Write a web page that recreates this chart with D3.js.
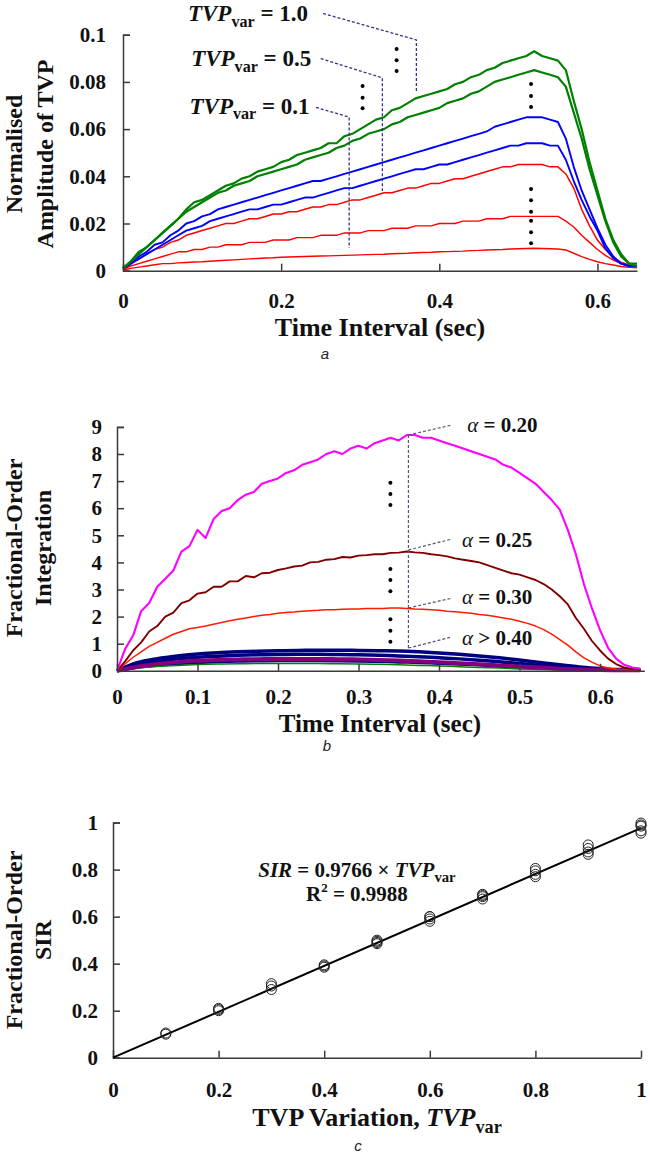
<!DOCTYPE html>
<html><head><meta charset="utf-8">
<script src="https://cdn.jsdelivr.net/npm/d3@7"></script>
<style>
body{margin:0;background:#fff;}
svg text{font-family:"Liberation Serif","Times New Roman",serif;white-space:pre;}
</style></head><body>
<svg id="fig" width="650" height="1156"></svg>
<script>
// ---------------- DATA ----------------
const timeA = [0,0.01,0.02,0.03,0.04,0.05,0.06,0.07,0.08,0.09,0.10,0.11,0.12,0.13,0.14,0.15,0.16,0.17,0.18,0.19,0.20,0.21,0.22,0.23,0.24,0.25,0.26,0.27,0.28,0.29,0.30,0.31,0.32,0.33,0.34,0.35,0.36,0.37,0.38,0.39,0.40,0.41,0.42,0.43,0.44,0.45,0.46,0.47,0.48,0.49,0.50,0.51,0.52,0.53,0.54,0.55,0.56,0.57,0.58,0.59,0.60,0.61,0.62,0.63,0.64,0.65];

// panel a: normalised TVP amplitude
const green1 = [0.001,0.004,0.008,0.010,0.013,0.016,0.019,0.022,0.026,0.029,0.030,0.032,0.034,0.036,0.037,0.039,0.040,0.042,0.043,0.044,0.046,0.047,0.049,0.050,0.051,0.052,0.054,0.054,0.057,0.058,0.060,0.062,0.064,0.065,0.068,0.069,0.071,0.073,0.074,0.075,0.076,0.077,0.079,0.080,0.082,0.083,0.085,0.086,0.088,0.089,0.090,0.091,0.093,0.091,0.090,0.089,0.085,0.072,0.060,0.046,0.034,0.022,0.013,0.007,0.003,0.003];
const green2 = [0.001,0.004,0.007,0.010,0.013,0.016,0.019,0.022,0.025,0.027,0.029,0.031,0.033,0.034,0.036,0.037,0.038,0.040,0.041,0.042,0.043,0.044,0.045,0.047,0.048,0.049,0.050,0.052,0.053,0.055,0.056,0.058,0.059,0.060,0.062,0.063,0.065,0.066,0.067,0.068,0.069,0.071,0.072,0.073,0.075,0.076,0.078,0.080,0.081,0.082,0.083,0.084,0.085,0.084,0.083,0.082,0.078,0.067,0.056,0.043,0.032,0.021,0.012,0.006,0.003,0.002];
const blue1 = [0.001,0.003,0.006,0.008,0.011,0.012,0.015,0.017,0.020,0.021,0.023,0.024,0.026,0.027,0.028,0.029,0.030,0.031,0.032,0.033,0.034,0.035,0.036,0.037,0.038,0.038,0.039,0.040,0.041,0.042,0.043,0.044,0.045,0.046,0.047,0.048,0.049,0.050,0.051,0.052,0.053,0.054,0.055,0.056,0.057,0.058,0.059,0.061,0.062,0.063,0.064,0.065,0.065,0.065,0.064,0.063,0.056,0.044,0.034,0.026,0.018,0.011,0.006,0.003,0.002,0.002];
const blue2 = [0.001,0.003,0.005,0.007,0.009,0.011,0.013,0.015,0.017,0.018,0.019,0.021,0.022,0.023,0.024,0.025,0.026,0.026,0.027,0.028,0.028,0.029,0.030,0.031,0.031,0.032,0.033,0.034,0.035,0.035,0.036,0.037,0.038,0.039,0.040,0.041,0.042,0.043,0.043,0.044,0.045,0.045,0.046,0.047,0.048,0.049,0.050,0.051,0.052,0.053,0.053,0.054,0.054,0.054,0.053,0.053,0.047,0.038,0.030,0.023,0.017,0.0095,0.0053,0.003,0.002,0.002];
const red1 = [0.001,0.003,0.005,0.007,0.009,0.010,0.012,0.013,0.015,0.016,0.017,0.018,0.019,0.020,0.020,0.021,0.022,0.022,0.023,0.024,0.024,0.025,0.025,0.026,0.027,0.027,0.028,0.028,0.029,0.030,0.030,0.031,0.032,0.033,0.033,0.034,0.035,0.035,0.036,0.037,0.037,0.038,0.039,0.039,0.040,0.041,0.042,0.043,0.044,0.044,0.045,0.045,0.045,0.045,0.044,0.044,0.041,0.035,0.026,0.019,0.013,0.009,0.0055,0.0035,0.0025,0.002];
const red2 = [0.0005,0.002,0.003,0.004,0.005,0.006,0.007,0.008,0.008,0.009,0.009,0.010,0.010,0.011,0.011,0.011,0.012,0.012,0.012,0.013,0.013,0.013,0.014,0.014,0.014,0.015,0.015,0.015,0.016,0.016,0.016,0.017,0.017,0.017,0.018,0.018,0.018,0.019,0.019,0.019,0.020,0.020,0.020,0.021,0.021,0.021,0.022,0.022,0.022,0.023,0.023,0.023,0.023,0.023,0.023,0.023,0.021,0.0185,0.015,0.012,0.009,0.0065,0.0045,0.003,0.002,0.0015];
const red3 = [0.0003,0.001,0.0015,0.002,0.0025,0.003,0.003,0.0033,0.0035,0.0037,0.0038,0.004,0.0042,0.0044,0.0046,0.0048,0.005,0.0052,0.0054,0.0055,0.0057,0.0058,0.0059,0.006,0.0061,0.0062,0.0063,0.0064,0.0065,0.0066,0.0067,0.0068,0.0069,0.007,0.0072,0.0073,0.0074,0.0076,0.0077,0.0078,0.008,0.0081,0.0082,0.0083,0.0085,0.0086,0.0088,0.0089,0.009,0.0092,0.0093,0.0094,0.0095,0.0094,0.0093,0.0092,0.0088,0.0074,0.006,0.0048,0.0038,0.003,0.0024,0.0018,0.0014,0.0012];
const seriesA = [
  {name:"red3", values:red3, color:"#ff0000", w:1.4},
  {name:"red2", values:red2, color:"#ff0000", w:1.4},
  {name:"red1", values:red1, color:"#ff0000", w:1.5},
  {name:"blue2", values:blue2, color:"#0000ff", w:1.9},
  {name:"blue1", values:blue1, color:"#0000ff", w:1.9},
  {name:"green2", values:green2, color:"#008000", w:2.2},
  {name:"green1", values:green1, color:"#008000", w:2.2}
];
const yTicksA = [0,0.02,0.04,0.06,0.08,0.1];
const xTicksA = [0,0.2,0.4,0.6];
const labelsA = ["1.0","0.5","0.1"];
const labelPosA = [[0.234,0.1058],[0.238,0.0868],[0.236,0.0666]];
const connectorsA = [
  [[0.253,0.1090],[0.371,0.0978],[0.371,0.0757]],
  [[0.250,0.0899],[0.328,0.0817],[0.328,0.0338]],
  [[0.244,0.0692],[0.286,0.0651],[0.286,0.0096]]
];
const dotsA = [[0.346,0.0939],[0.346,0.0892],[0.346,0.0846],[0.303,0.0783],[0.303,0.0733],[0.303,0.0688],[0.516,0.0791],[0.516,0.074],[0.516,0.0694],[0.516,0.0346],[0.516,0.0298],[0.516,0.025],[0.516,0.0212],[0.516,0.0163],[0.516,0.0116]];

// panel b: fractional-order integration
const alpha020 = [0,0.8,1.3,2.2,2.5,3.1,3.4,3.7,4.4,4.6,5.2,4.9,5.6,5.9,6.0,6.3,6.5,6.6,6.9,7.0,7.1,7.3,7.4,7.6,7.7,7.8,8.0,8.1,8.0,8.2,8.3,8.2,8.4,8.5,8.6,8.5,8.7,8.7,8.6,8.6,8.5,8.4,8.3,8.2,8.1,8.0,7.9,7.8,7.6,7.5,7.3,7.1,6.9,6.6,6.3,5.95,5.2,4.3,3.2,2.3,1.5,0.85,0.45,0.22,0.12,0.08];
const alpha025 = [0,0.35,0.75,1.05,1.45,1.65,2.0,2.15,2.5,2.6,2.85,2.9,3.1,3.1,3.3,3.3,3.5,3.45,3.6,3.62,3.72,3.78,3.85,3.88,4.0,4.02,4.1,4.12,4.2,4.18,4.25,4.27,4.3,4.3,4.35,4.36,4.4,4.37,4.35,4.3,4.27,4.22,4.15,4.1,4.05,4.0,3.9,3.8,3.7,3.6,3.55,3.45,3.35,3.2,3.0,2.75,2.45,1.95,1.55,1.1,0.75,0.45,0.25,0.12,0.06,0.04];
const alpha030 = [0,0.25,0.5,0.7,0.9,1.05,1.2,1.35,1.45,1.55,1.6,1.65,1.72,1.78,1.85,1.9,1.95,2.0,2.05,2.08,2.12,2.15,2.17,2.2,2.22,2.23,2.25,2.25,2.27,2.28,2.28,2.3,2.3,2.3,2.32,2.32,2.3,2.28,2.27,2.25,2.23,2.2,2.18,2.15,2.12,2.08,2.05,2.0,1.95,1.9,1.83,1.75,1.65,1.52,1.35,1.15,0.95,0.7,0.48,0.32,0.18,0.1,0.06,0.04,0.03,0.03];
const timeLow = [0,0.025,0.05,0.075,0.1,0.125,0.15,0.175,0.2,0.225,0.25,0.275,0.3,0.325,0.35,0.375,0.4,0.425,0.45,0.475,0.5,0.525,0.55,0.575,0.6,0.625,0.65];
const navy1 = [0,0.3,0.45,0.55,0.62,0.67,0.7,0.72,0.74,0.75,0.76,0.76,0.75,0.74,0.73,0.7,0.66,0.61,0.55,0.48,0.4,0.31,0.22,0.14,0.08,0.05,0.04];
const navy2 = [0,0.22,0.35,0.44,0.5,0.54,0.57,0.59,0.6,0.61,0.61,0.6,0.59,0.57,0.55,0.52,0.48,0.44,0.39,0.33,0.27,0.2,0.14,0.09,0.05,0.03,0.03];
const navy3 = [0,0.12,0.2,0.26,0.3,0.33,0.35,0.36,0.37,0.37,0.37,0.36,0.35,0.34,0.32,0.3,0.27,0.24,0.21,0.17,0.14,0.1,0.07,0.05,0.03,0.02,0.02];
const greenLow = [0,0.1,0.16,0.2,0.23,0.25,0.26,0.27,0.27,0.27,0.27,0.26,0.25,0.24,0.22,0.2,0.18,0.15,0.12,0.1,0.07,0.05,0.03,0.02,0.01,0.01,0.01];
const purpleLow = [0,0.15,0.25,0.32,0.37,0.4,0.42,0.43,0.44,0.44,0.44,0.43,0.42,0.4,0.38,0.35,0.32,0.28,0.24,0.2,0.16,0.12,0.08,0.05,0.03,0.02,0.02];
const seriesBLow = [
  {values:navy1, color:"#000080", w:3.5},
  {values:navy2, color:"#000080", w:3.5},
  {values:navy3, color:"#000080", w:3},
  {values:greenLow, color:"#008000", w:1.5},
  {values:purpleLow, color:"#800080", w:4}
];
const seriesBHigh = [
  {values:alpha030, color:"#ff1a00", w:1.5},
  {values:alpha025, color:"#800000", w:1.9},
  {values:alpha020, color:"#ff00ff", w:2.1}
];
const yTicksB = [0,1,2,3,4,5,6,7,8,9];
const xTicksB = [0,0.1,0.2,0.3,0.4,0.5,0.6];
const alphaLabels = [["=","0.20"],["=","0.25"],["=","0.30"],[">","0.40"]];
const alphaLabelPos = [[0.435,8.81],[0.4286,4.57],[0.4286,2.46],[0.4286,0.95]];
const vLineB = [[0.362,8.7],[0.362,0.8]];
const connectorsB = [
  [[0.362,8.7],[0.416,9.07]],
  [[0.362,4.46],[0.416,4.86]],
  [[0.362,2.32],[0.416,2.68]],
  [[0.362,0.84],[0.416,1.25]]
];
const dotsB = [[0.3396,6.94],[0.3396,6.52],[0.3396,6.12],[0.3396,3.76],[0.3396,3.35],[0.3396,2.94],[0.3396,1.9],[0.3396,1.48],[0.3396,1.07]];

// panel c: SIR vs TVP variation
const tvpVar = [0.1,0.1,0.2,0.2,0.2,0.3,0.3,0.3,0.4,0.4,0.4,0.5,0.5,0.5,0.5,0.6,0.6,0.6,0.6,0.7,0.7,0.7,0.7,0.8,0.8,0.8,0.8,0.9,0.9,0.9,0.9,1.0,1.0,1.0,1.0,1.0];
const sirVal = [0.105,0.10,0.205,0.21,0.20,0.29,0.305,0.315,0.385,0.39,0.395,0.485,0.49,0.495,0.50,0.58,0.59,0.60,0.60,0.675,0.685,0.69,0.695,0.77,0.78,0.795,0.805,0.865,0.875,0.89,0.905,0.955,0.965,0.985,0.99,0.998];
const slope = 0.9766;
const fitX = [0, 1];
const ticksC = [0,0.2,0.4,0.6,0.8,1];

// ---------------- DRAWING ----------------
const svg = d3.select("#fig");
const INK = "#111";
const AX = "#3a3a3a";

function styleAxis(g, fs){
  g.selectAll(".domain").attr("stroke",AX).attr("stroke-width",1.5);
  g.selectAll(".tick line").attr("stroke",AX).attr("stroke-width",1.5);
  g.selectAll(".tick text").attr("font-family","Liberation Serif").attr("font-weight","bold").attr("font-size",fs).attr("fill",INK);
}
function rich(sel, x, y, parts, size, anchor){
  const t = sel.append("text").attr("x",x).attr("y",y).attr("font-size",size)
    .attr("font-weight","bold").attr("text-anchor",anchor||"start").attr("fill",INK);
  let shift = 0;
  parts.forEach(p=>{
    const ts = t.append("tspan").text(p.t);
    if(p.i) ts.attr("font-style","italic");
    if(p.n) ts.attr("font-weight","normal");
    if(p.sub){ ts.attr("font-size", size*0.7).attr("dy", size*0.25); shift = size*0.25; }
    else if(p.sup){ ts.attr("font-size", size*0.62).attr("dy", -size*0.4); shift = -size*0.4; }
    else if(shift){ ts.attr("dy", -shift); shift = 0; }
  });
  return t;
}
function vTitle(lines, xs, cy){
  lines.forEach((s,i)=>{
    svg.append("text").attr("transform",`translate(${xs[i]},${cy}) rotate(-90)`)
      .attr("text-anchor","middle").attr("font-size",24).attr("font-weight","bold").attr("fill",INK).text(s);
  });
}
function hTitle(txt, x, y, fs){
  svg.append("text").attr("x",x).attr("y",y).attr("text-anchor","middle").attr("font-size",fs||26)
    .attr("font-weight","bold").attr("fill",INK).text(txt);
}
function caption(txt, x, y){
  svg.append("text").attr("x",x).attr("y",y).attr("text-anchor","middle")
    .style("font-family","'Liberation Sans',Arial,sans-serif")
    .attr("font-style","italic").attr("font-size",15).attr("fill","#222").text(txt);
}

// ===== Panel a =====
const xA = d3.scaleLinear().domain([0,0.65]).range([123,637]);
const yA = d3.scaleLinear().domain([0,0.1]).range([270.7,34.7]);
const fmtA = d => d===0 ? "0" : d3.format(".2~f")(d);
const fmt1 = d => d===0 ? "0" : d3.format(".1~f")(d);

const lineA = d3.line().x((d,i)=>xA(timeA[i])).y(d=>yA(d));
svg.append("g").selectAll("path").data(seriesA).join("path")
  .attr("d", s=>lineA(s.values)).attr("fill","none")
  .attr("stroke", s=>s.color).attr("stroke-width", s=>s.w).attr("stroke-linejoin","round");

const gyA = svg.append("g").attr("transform",`translate(${xA(0)},0)`)
  .call(d3.axisLeft(yA).tickValues(yTicksA).tickFormat(fmtA).tickSizeInner(-7).tickSizeOuter(-7).tickPadding(17));
styleAxis(gyA, 21);
const gxA = svg.append("g").attr("transform",`translate(0,${yA(0)})`)
  .call(d3.axisBottom(xA).tickValues(xTicksA).tickFormat(fmt1).tickSizeInner(-7).tickSizeOuter(0).tickPadding(22));
styleAxis(gxA, 21);

const dashLine = d3.line().x(d=>xA(d[0])).y(d=>yA(d[1]));
svg.append("g").selectAll("path").data(connectorsA).join("path")
  .attr("d", dashLine).attr("fill","none").attr("stroke","#33338f").attr("stroke-width",1.3).attr("stroke-dasharray","3,2");
labelsA.forEach((v,i)=>{
  rich(svg, xA(labelPosA[i][0]), yA(labelPosA[i][1]), [{t:"TVP",i:true},{t:"var",sub:true},{t:" = "+v}], 23, "end");
});
svg.append("g").selectAll("circle").data(dotsA).join("circle")
  .attr("cx",d=>xA(d[0])).attr("cy",d=>yA(d[1])).attr("r",2).attr("fill","#000");

vTitle(["Normalised","Amplitude of TVP"], [22,53], 154);
hTitle("Time Interval (sec)", 380, 336);
caption("a", 325, 359);

// ===== Panel b =====
const xB = d3.scaleLinear().domain([0,0.655]).range([117,644.3]);
const yB = d3.scaleLinear().domain([0,9]).range([670.8,426.9]);
const lineBLow = d3.line().x((d,i)=>xB(timeLow[i])).y(d=>yB(d)).curve(d3.curveMonotoneX);
const lineB = d3.line().x((d,i)=>xB(timeA[i])).y(d=>yB(d));
svg.append("g").selectAll("path").data(seriesBLow).join("path")
  .attr("d", s=>lineBLow(s.values)).attr("fill","none")
  .attr("stroke", s=>s.color).attr("stroke-width", s=>s.w).attr("stroke-linejoin","round");
svg.append("g").selectAll("path").data(seriesBHigh).join("path")
  .attr("d", s=>lineB(s.values)).attr("fill","none")
  .attr("stroke", s=>s.color).attr("stroke-width", s=>s.w).attr("stroke-linejoin","round");

const gyB = svg.append("g").attr("transform",`translate(${xB(0)},0)`)
  .call(d3.axisLeft(yB).tickValues(yTicksB).tickFormat(d3.format("d")).tickSizeInner(-7).tickSizeOuter(-7).tickPadding(15));
styleAxis(gyB, 21);
const gxB = svg.append("g").attr("transform",`translate(0,${yB(0)})`)
  .call(d3.axisBottom(xB).tickValues(xTicksB).tickFormat(fmt1).tickSizeInner(-7).tickSizeOuter(0).tickPadding(18));
styleAxis(gxB, 21);

const dashB = d3.line().x(d=>xB(d[0])).y(d=>yB(d[1]));
svg.append("path").attr("d", dashB(vLineB)).attr("fill","none").attr("stroke","#555577").attr("stroke-width",1.2).attr("stroke-dasharray","3,2");
svg.append("g").selectAll("path").data(connectorsB).join("path")
  .attr("d", dashB).attr("fill","none").attr("stroke","#555577").attr("stroke-width",1.2).attr("stroke-dasharray","3,2");
alphaLabels.forEach((p,i)=>{
  rich(svg, xB(alphaLabelPos[i][0]), yB(alphaLabelPos[i][1]), [{t:"α",i:true,n:true},{t:" "+p[0]+" "+p[1]}], 21, "start");
});
svg.append("g").selectAll("circle").data(dotsB).join("circle")
  .attr("cx",d=>xB(d[0])).attr("cy",d=>yB(d[1])).attr("r",2).attr("fill","#000");

vTitle(["Fractional-Order","Integration"], [22,51], 548);
hTitle("Time Interval (sec)", 380, 732, 25);
caption("b", 327, 751);

// ===== Panel c =====
const xC = d3.scaleLinear().domain([0,1]).range([113,641]);
const yC = d3.scaleLinear().domain([0,1]).range([1057.7,822.6]);
const gyC = svg.append("g").attr("transform",`translate(${xC(0)},0)`)
  .call(d3.axisLeft(yC).tickValues(ticksC).tickFormat(fmt1).tickSizeInner(-7).tickSizeOuter(-7).tickPadding(15));
styleAxis(gyC, 21);
const gxC = svg.append("g").attr("transform",`translate(0,${yC(0)})`)
  .call(d3.axisBottom(xC).tickValues(ticksC).tickFormat(fmt1).tickSizeInner(-7).tickSizeOuter(0).tickPadding(24));
styleAxis(gxC, 21);

svg.append("path").attr("d", d3.line().x(d=>xC(d)).y(d=>yC(slope*d))(fitX))
  .attr("stroke","#000").attr("stroke-width",2).attr("fill","none");
svg.append("g").selectAll("circle").data(tvpVar).join("circle")
  .attr("cx",d=>xC(d)).attr("cy",(d,i)=>yC(sirVal[i])).attr("r",5)
  .attr("fill","none").attr("stroke","#222").attr("stroke-width",1);

rich(svg, xC(0.462), yC(0.7686), [{t:"SIR",i:true},{t:" = 0.9766 × "},{t:"TVP",i:true},{t:"var",sub:true}], 21, "middle");
rich(svg, xC(0.462), yC(0.667), [{t:"R"},{t:"2",sup:true},{t:" = 0.9988"}], 21, "middle");

vTitle(["Fractional-Order","SIR"], [22,51], 940);
rich(svg, 377, 1126, [{t:"TVP Variation, "},{t:"TVP",i:true},{t:"var",sub:true}], 26, "middle");
caption("c", 358, 1151);
</script>
</body></html>
